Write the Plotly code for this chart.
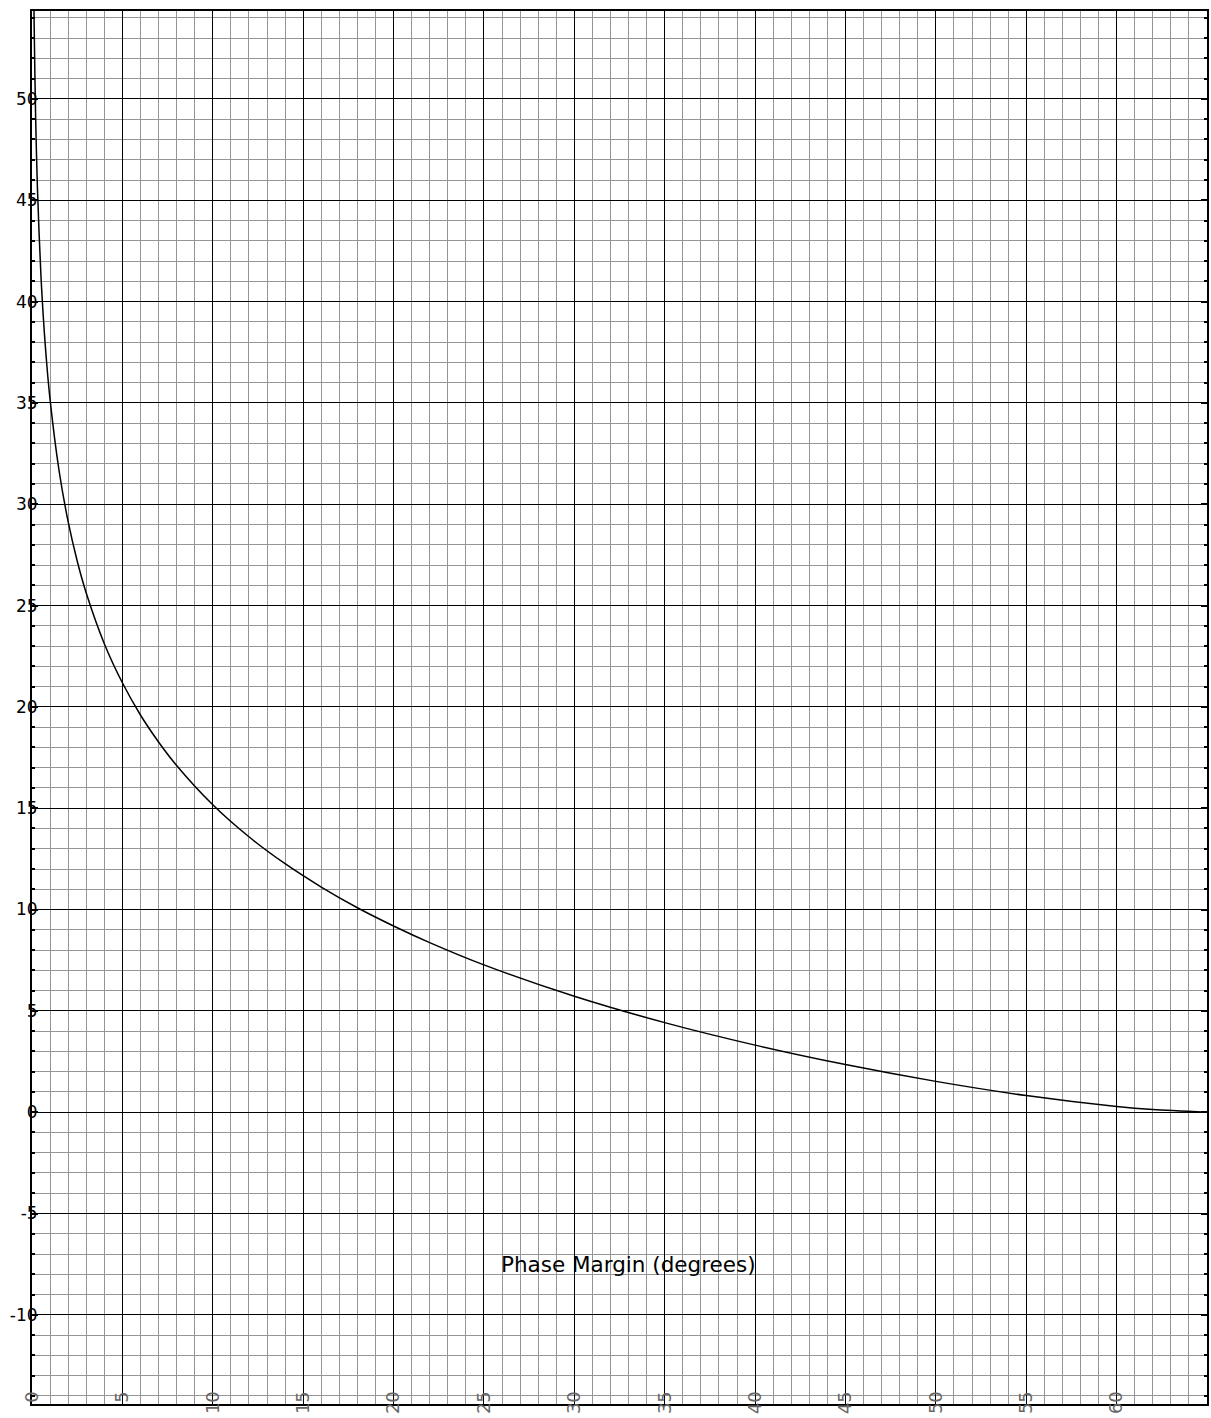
import plotly.graph_objects as go

# Phase margin (degrees)
phase_margin = [0.1, 0.12, 0.2, 0.3, 0.5, 0.75, 1, 1.5, 2, 2.5, 3, 4, 5, 6, 7, 8,
                10, 12, 14, 16, 18, 20, 22, 25, 30, 35, 40, 45, 50, 55, 60, 62, 65]
# Closed-loop peaking (dB) read at those points
peaking_db = [55.16, 53.58, 49.14, 45.62, 41.18, 37.66, 35.16, 31.64, 29.14, 27.20,
              25.62, 23.12, 21.19, 19.60, 18.27, 17.11, 15.17, 13.59, 12.26, 11.11,
              10.09, 9.19, 8.37, 7.27, 5.72, 4.42, 3.31, 2.35, 1.52, 0.82, 0.28,
              0.13, 0.0]

x_ticks = list(range(0, 70, 5))
y_ticks = list(range(-10, 55, 5))

fig = go.Figure()
fig.add_trace(go.Scatter(
    x=phase_margin, y=peaking_db, mode="lines",
    line=dict(color="black", width=1.5, shape="spline", smoothing=0.8),
    hoverinfo="skip", showlegend=False,
))

fig.update_layout(
    width=1211, height=1418,
    margin=dict(l=32, r=2, t=11, b=14),
    paper_bgcolor="white", plot_bgcolor="white",
    font=dict(family="DejaVu Sans", color="black"),
    xaxis=dict(
        range=[0, 65], tickvals=x_ticks, ticktext=[str(v) for v in x_ticks],
        tickangle=-90, tickfont=dict(size=18, color="#666666"),
        ticks="", ticklabelstandoff=-22,
        showgrid=True, gridcolor="#000000", gridwidth=1,
        minor=dict(dtick=1, showgrid=True, gridcolor="#959595", gridwidth=1, ticks=""),
        showline=True, linecolor="black", linewidth=2, mirror=True,
        zeroline=False, fixedrange=True,
    ),
    yaxis=dict(
        range=[-14.4, 54.34], tickvals=y_ticks, ticktext=[str(v) for v in y_ticks],
        tickfont=dict(size=17, color="black"),
        ticks="inside", ticklen=6, tickwidth=2, tickcolor="black",
        ticklabelstandoff=-11,
        showgrid=True, gridcolor="#000000", gridwidth=1,
        minor=dict(dtick=1, showgrid=True, gridcolor="#959595", gridwidth=1,
                   ticks="inside", ticklen=3, tickwidth=2, tickcolor="black"),
        showline=True, linecolor="black", linewidth=2, mirror="allticks",
        zeroline=False, fixedrange=True,
    ),
    annotations=[dict(
        text="Phase Margin (degrees)", xref="paper", yref="paper",
        x=0.508, y=0.1005, xanchor="center", yanchor="middle", showarrow=False,
        font=dict(family="DejaVu Sans", size=21.5, color="black"),
    )],
)

fig.write_html(
    "out.html",
    config={"displayModeBar": False},
    post_script="document.body.style.margin='0';document.body.style.overflow='hidden';",
)
